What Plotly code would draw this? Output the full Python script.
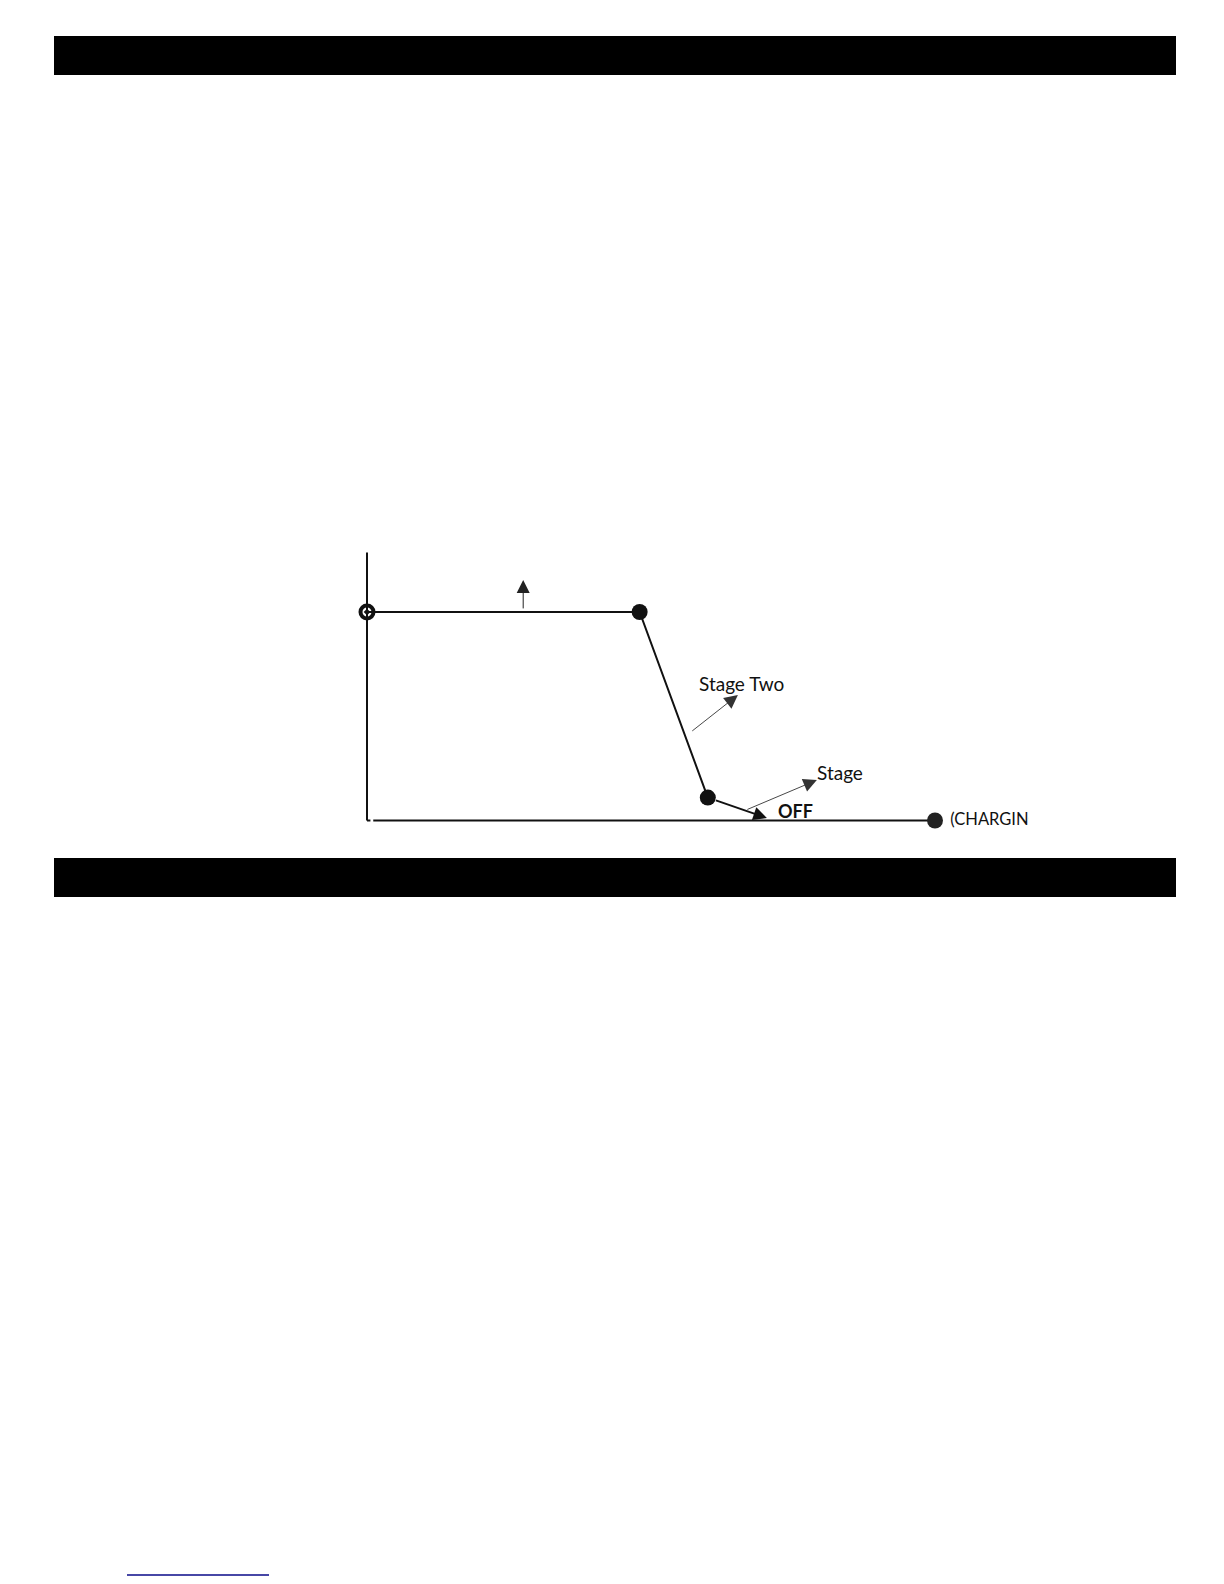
import plotly.graph_objects as go

# charging profile (time in arbitrary units, current in amps)
curve_time = [0, 4.8, 6.0]
curve_current = [10, 10, 1.1]
off_time = [6.0, 7.04]
off_current = [1.1, 0.12]
end_time = [10]
end_current = [0]
axis_top = 12.85
end_label = " (CHARGING TIME)"

W, H = 1224, 1584
# pixel geometry of the plot
x0_px, xu = 367, 56.8      # px of x=0, px per unit
y0_px, yu = 820.5, 20.85   # px of y=0, px per unit
left_px, right_px, top_px, bot_px = 350, 1029, 540, 840

font = "Lato"

fig = go.Figure()

# axes drawn as lines
fig.add_trace(go.Scatter(x=[0, 0], y=[0, axis_top], mode="lines",
                         line=dict(color="#111", width=2), hoverinfo="skip"))
fig.add_trace(go.Scatter(x=[0.11, end_time[0]], y=[0, 0], mode="lines",
                         line=dict(color="#111", width=2.2), hoverinfo="skip"))
fig.add_trace(go.Scatter(x=[0, 0.06], y=[0, 0], mode="lines",
                         line=dict(color="#111", width=2), hoverinfo="skip"))

# main curve
fig.add_trace(go.Scatter(x=curve_time, y=curve_current, mode="lines",
                         line=dict(color="#111", width=2), hoverinfo="skip"))
fig.add_trace(go.Scatter(x=curve_time[1:], y=curve_current[1:], mode="markers",
                         marker=dict(color="#111", size=16), hoverinfo="skip"))
fig.add_trace(go.Scatter(x=curve_time[:1], y=curve_current[:1], mode="markers",
                         marker=dict(color="#111", size=13, symbol="circle-open-dot",
                                     line=dict(width=4, color="#111")),
                         hoverinfo="skip"))
fig.add_trace(go.Scatter(x=end_time, y=end_current, mode="markers+text",
                         marker=dict(color="#222", size=16),
                         text=[end_label], textposition="middle right",
                         textfont=dict(family=font, size=16.5, color="#111"),
                         cliponaxis=True, hoverinfo="skip"))

anns = []
# up arrow on constant-current stage
anns.append(dict(x=2.75, y=11.53, ax=2.75, ay=10.1, xref="x", yref="y",
                 axref="x", ayref="y", showarrow=True, arrowhead=2,
                 arrowsize=2.6, arrowwidth=1, arrowcolor="#222", text=""))
# stage two arrow
anns.append(dict(x=6.53, y=6.02, ax=5.70, ay=4.24, xref="x", yref="y",
                 axref="x", ayref="y", showarrow=True, arrowhead=2,
                 arrowsize=3.0, arrowwidth=0.9, arrowcolor="#333", text=""))
# stage arrow
anns.append(dict(x=7.92, y=1.94, ax=6.67, ay=0.50, xref="x", yref="y",
                 axref="x", ayref="y", showarrow=True, arrowhead=2,
                 arrowsize=3.0, arrowwidth=0.9, arrowcolor="#333", text=""))
# off arrow
anns.append(dict(x=off_time[1], y=off_current[1], ax=off_time[0], ay=off_current[0],
                 xref="x", yref="y", axref="x", ayref="y", showarrow=True,
                 arrowhead=2, arrowsize=1.35, arrowwidth=2, arrowcolor="#111",
                 text="", standoff=0, startstandoff=7))

anns.append(dict(x=6.60, y=6.59, xref="x", yref="y", text="Stage Two",
                 showarrow=False, font=dict(family=font, size=19, color="#111")))
anns.append(dict(x=8.32, y=2.28, xref="x", yref="y", text="Stage",
                 showarrow=False, font=dict(family=font, size=19, color="#111")))
anns.append(dict(x=7.54, y=0.46, xref="x", yref="y", text="<b>OFF</b>",
                 showarrow=False, font=dict(family=font, size=18, color="#111")))

# page decorations: black header bars and a link underline
shapes = []
for top, bot in [(36, 75), (858, 897)]:
    shapes.append(dict(type="rect", xref="paper", yref="paper",
                       x0=54 / W, x1=1176 / W, y0=1 - bot / H, y1=1 - top / H,
                       fillcolor="black", line=dict(width=0), layer="below"))
shapes.append(dict(type="line", xref="paper", yref="paper",
                   x0=127 / W, x1=269 / W, y0=1 - 1575 / H, y1=1 - 1575 / H,
                   line=dict(color="#0a0a88", width=1.5)))

ax_common = dict(showgrid=False, zeroline=False, showticklabels=False,
                 showline=False, ticks="", fixedrange=True)

fig.update_layout(
    width=W, height=H,
    margin=dict(l=0, r=0, t=0, b=0),
    paper_bgcolor="white", plot_bgcolor="rgba(0,0,0,0)",
    showlegend=False,
    xaxis=dict(domain=[left_px / W, right_px / W],
               range=[(left_px - x0_px) / xu, (right_px - x0_px) / xu], **ax_common),
    yaxis=dict(domain=[1 - bot_px / H, 1 - top_px / H],
               range=[(y0_px - bot_px) / yu, (y0_px - top_px) / yu], **ax_common),
    annotations=anns,
    shapes=shapes,
)

# drop the browser's default body margin so the page lines up with the original
fig.write_html("out.html", config={"displayModeBar": False},
               post_script="document.body.style.margin='0';")
